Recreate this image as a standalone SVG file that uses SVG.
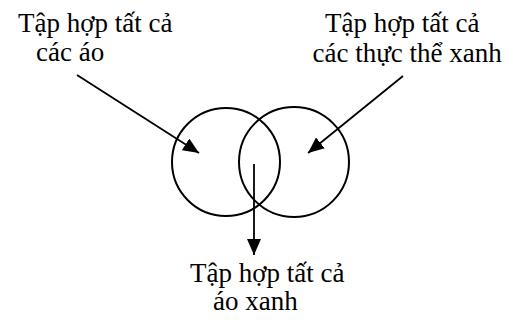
<svg xmlns="http://www.w3.org/2000/svg" width="510" height="320" viewBox="0 0 510 320">
<defs>
<style>
text{font-family:"Liberation Serif","Times New Roman",serif;font-size:27px;fill:#000}
.c{fill:none;stroke:#000;stroke-width:2}
.e{stroke:#000;stroke-width:1.8;fill:none}
</style>
<marker id="ah" viewBox="0 0 16 14" refX="16" refY="7" markerWidth="16" markerHeight="14" markerUnits="userSpaceOnUse" orient="auto">
<path d="M0,0 L16,7 L0,14 Z" fill="#000"/>
</marker>
</defs>
<rect width="510" height="320" fill="#fff"/>
<g id="set-all-shirts">
<circle class="c" cx="226" cy="162" r="54"/>
</g>
<g id="set-all-green">
<circle class="c" cx="294" cy="162" r="55"/>
</g>
<g id="label-shirts">
<text x="18" y="31.5">Tập hợp tất cả</text>
<text x="36" y="60.5">các áo</text>
</g>
<g id="label-green">
<text x="325" y="31.5">Tập hợp tất cả</text>
<text x="312.5" y="61.5">các thực thể xanh</text>
</g>
<g id="label-green-shirts">
<text x="190" y="282">Tập hợp tất cả</text>
<text x="213" y="310">áo xanh</text>
</g>
<g id="connectors">
<line class="e" x1="77" y1="75" x2="199" y2="153" marker-end="url(#ah)"/>
<line class="e" x1="403" y1="76" x2="308" y2="153" marker-end="url(#ah)"/>
<line class="e" x1="254" y1="164" x2="254" y2="255" marker-end="url(#ah)"/>
</g>
</svg>
